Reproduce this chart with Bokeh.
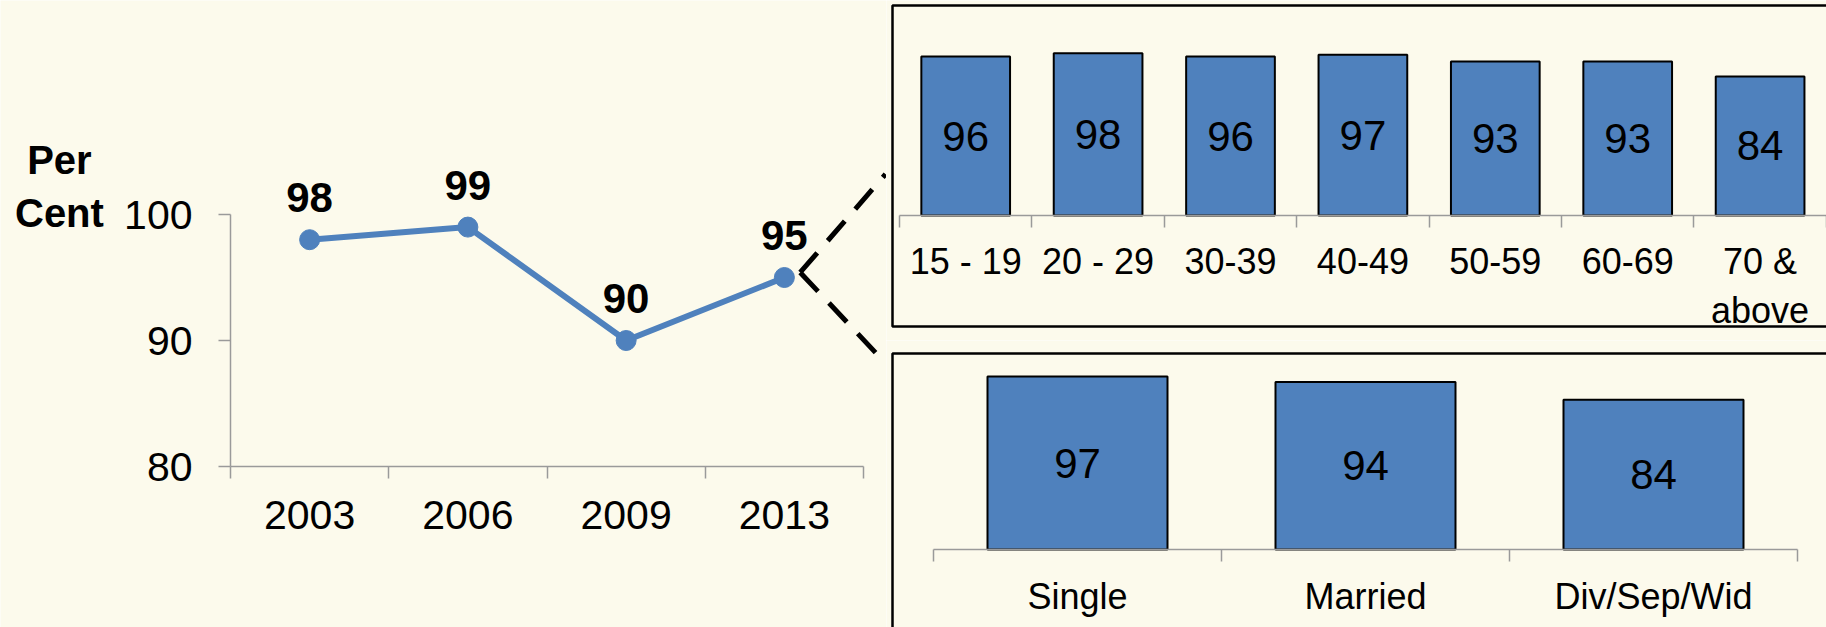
from bokeh.plotting import figure
from bokeh.models import (ColumnDataSource, LabelSet, Label, Arrow, BoxAnnotation,
                          FixedTicker, Range1d)
from bokeh.layouts import row, column
from bokeh.core.properties import value
from bokeh.embed import file_html
from bokeh.resources import INLINE

# ---------------- data ----------------
years = ["2003", "2006", "2009", "2013"]
trend = [98, 99, 90, 95]
y_ticks = [80, 90, 100]

age_groups = ["15 - 19", "20 - 29", "30-39", "40-49", "50-59", "60-69", "70 &\nabove"]
age_values = [96, 98, 96, 97, 93, 93, 84]

status_groups = ["Single", "Married", "Div/Sep/Wid"]
status_values = [97, 94, 84]

# ---------------- style ----------------
BG = "#fcfaec"
BLUE = "#4f81bd"
AXIS = "#9a9a9a"
FONT = "Liberation Sans"

W, H = 1826, 627
W_L = 886
W_R = W - W_L
H_T = 340
H_B = H - H_T


def make_fig(w, h, xr, yr):
    p = figure(width=w, height=h, x_range=Range1d(*xr), y_range=Range1d(*yr),
               output_backend="svg", toolbar_location=None,
               min_border_left=0, min_border_right=0, min_border_top=0, min_border_bottom=0)
    p.background_fill_color = BG
    p.border_fill_color = BG
    p.outline_line_color = None
    p.xgrid.visible = False
    p.ygrid.visible = False
    return p


def cat_axis(axis, centers, names, n, font_size, standoff, loc, bounds):
    axis.fixed_location = loc
    axis.bounds = bounds
    axis.ticker = FixedTicker(ticks=centers, minor_ticks=list(range(n + 1)))
    axis.major_label_overrides = {c: s for c, s in zip(centers, names)}
    axis.major_tick_line_color = None
    axis.major_tick_in = 0
    axis.major_tick_out = 12
    axis.minor_tick_in = 0
    axis.minor_tick_out = 12
    axis.minor_tick_line_color = AXIS
    axis.minor_tick_line_width = 1.5
    axis.axis_line_color = AXIS
    axis.axis_line_width = 1.5
    axis.major_label_text_font = FONT
    axis.major_label_text_font_size = font_size
    axis.major_label_text_color = "black"
    axis.major_label_standoff = standoff


def frame_box(p, left, right, top, bottom):
    p.add_layout(BoxAnnotation(left=left, right=right, top=top, bottom=bottom,
                               fill_color=None, fill_alpha=0, line_color="black",
                               line_alpha=1.0, line_width=2.5))


# ---------------- line chart ----------------
ux, uy = 158.25, 12.6          # px per unit
x0, y100 = 230, 214            # pixel of x=0 and of y=100
fl = make_fig(W_L, H, (-x0 / ux, (W_L - x0) / ux),
              (100 - (H - y100) / uy, 100 + y100 / uy))

xs = [i + 0.5 for i in range(len(years))]
src = ColumnDataSource(dict(x=xs, y=trend, label=[str(v) for v in trend]))
fl.line("x", "y", source=src, line_width=6, line_color=BLUE)
fl.scatter("x", "y", source=src, size=20, color=BLUE)
fl.add_layout(LabelSet(x="x", y="y", text="label", source=src, y_offset=42,
                       text_align="center", text_baseline="middle",
                       text_font=value(FONT), text_font_style="bold",
                       text_font_size="42px", text_color="black"))

cat_axis(fl.xaxis[0], xs, years, len(years), "41px", 22, min(y_ticks), (0, len(years)))
ya = fl.yaxis[0]
ya.fixed_location = 0
ya.bounds = (min(y_ticks), max(y_ticks))
ya.ticker = FixedTicker(ticks=y_ticks)
ya.major_tick_in = 0
ya.major_tick_out = 12
ya.major_tick_line_color = AXIS
ya.major_tick_line_width = 1.5
ya.minor_tick_line_color = None
ya.axis_line_color = AXIS
ya.axis_line_width = 1.5
ya.major_label_text_font = FONT
ya.major_label_text_font_size = "41px"
ya.major_label_text_color = "black"
ya.major_label_standoff = 26

fl.add_layout(Label(x=-1.081, y=102.2, text="Per\nCent", text_align="center",
                    text_baseline="middle", text_font=FONT, text_font_style="bold",
                    text_font_size="40px", text_line_height=1.2, text_color="black"))

tip_x = xs[-1] + 0.1
tip_y = trend[-1] + 0.4
end_x = (W_L - 1 - x0) / ux
for ey in (103.2, 88.2):
    fl.add_layout(Arrow(end=None, x_start=tip_x, y_start=tip_y, x_end=end_x, y_end=ey,
                        line_color="black", line_width=5, line_dash="26 16"))

# ---------------- age bar chart ----------------
ct, pt = 132.4, 1.656          # px per category, px per percent
bx_t, by_t = 13, 215           # pixel of x=0, y=0 in this canvas
ft = make_fig(W_R, H_T, (-bx_t / ct, (W_R - bx_t) / ct),
              (-(H_T - by_t) / pt, by_t / pt))
ft.yaxis.visible = False
xa = [i + 0.5 for i in range(len(age_groups))]
srct = ColumnDataSource(dict(x=xa, top=age_values, mid=[v / 2 for v in age_values],
                             label=[str(v) for v in age_values]))
ft.vbar(x="x", top="top", bottom=0, width=0.67, source=srct, fill_color=BLUE,
        line_color="black", line_width=2)
ft.add_layout(LabelSet(x="x", y="mid", text="label", source=srct, text_align="center",
                       text_baseline="middle", text_font=value(FONT), text_font_size="42px",
                       text_color="black"))
cat_axis(ft.xaxis[0], xa, age_groups, len(age_groups), "36px", 13, 0, (0, len(age_groups) + 1))
frame_box(ft, -7 / ct, len(age_groups) + 2, (by_t - 5) / pt, (by_t - 326) / pt)

# ---------------- marital status bar chart ----------------
cb, pb = 288.0, 1.783
bx_b, by_b = 47, 209
fb = make_fig(W_R, H_B, (-bx_b / cb, (W_R - bx_b) / cb),
              (-(H_B - by_b) / pb, by_b / pb))
fb.yaxis.visible = False
xb = [i + 0.5 for i in range(len(status_groups))]
srcb = ColumnDataSource(dict(x=xb, top=status_values, mid=[v / 2 for v in status_values],
                             label=[str(v) for v in status_values]))
fb.vbar(x="x", top="top", bottom=0, width=0.625, source=srcb, fill_color=BLUE,
        line_color="black", line_width=2)
fb.add_layout(LabelSet(x="x", y="mid", text="label", source=srcb, text_align="center",
                       text_baseline="middle", text_font=value(FONT), text_font_size="42px",
                       text_color="black"))
cat_axis(fb.xaxis[0], xb, status_groups, len(status_groups), "36px", 14, 0,
         (0, len(status_groups)))
frame_box(fb, -41 / cb, len(status_groups) + 2, (by_b - 13) / pb, -(H_B - by_b + 20) / pb)

p = row(fl, column(ft, fb))
open("out.html", "w").write(file_html(p, INLINE))
